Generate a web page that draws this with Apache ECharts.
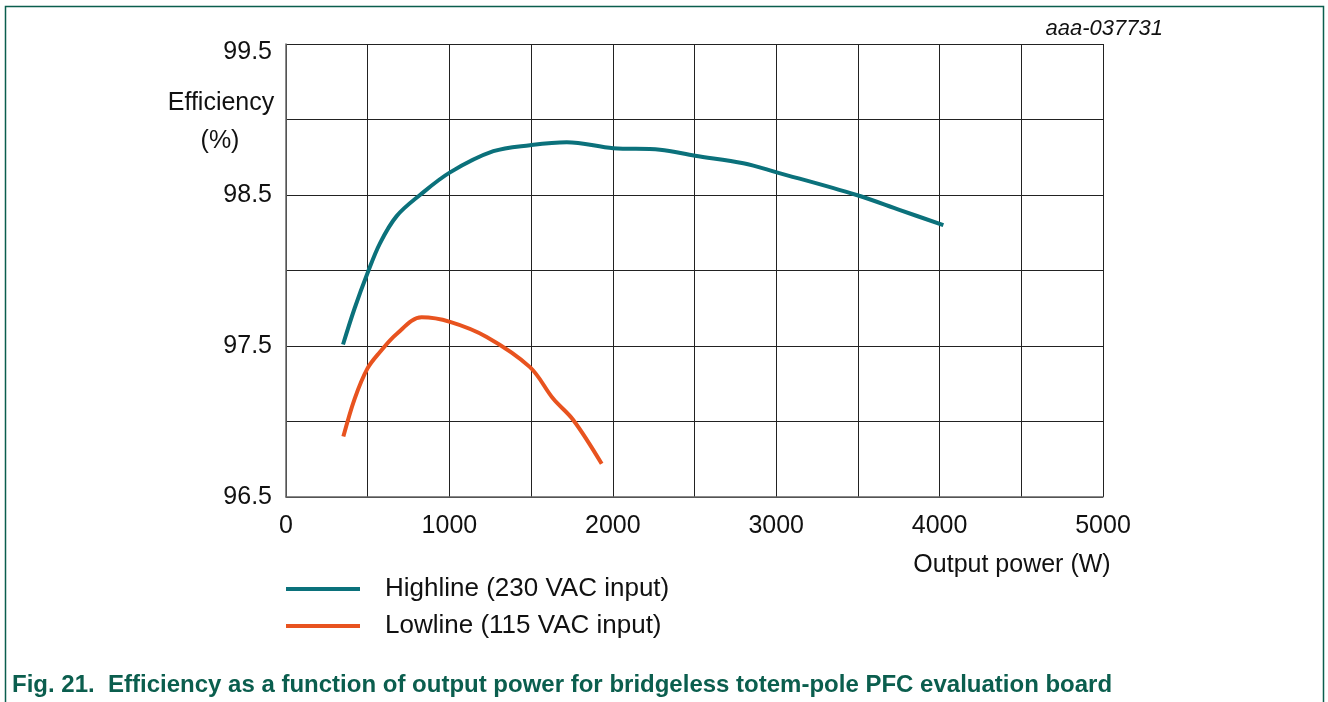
<!DOCTYPE html>
<html lang="en">
<head>
    <meta charset="UTF-8">
    <title>Efficiency vs Output Power</title>
    <script src="https://cdn.jsdelivr.net/npm/echarts/dist/echarts.min.js"></script>
    <style>
        html, body { margin: 0; padding: 0; background: #fff; }
        #chart { width: 1328px; height: 702px; }
    </style>
</head>
<body>
    <div id="chart"></div>

    <script>
        // highline (230 VAC) readings: output power W, efficiency %
        const highPower = [349, 420, 498, 575, 677, 820, 1004, 1269, 1493, 1718, 2003, 2289, 2503, 2799, 3003, 3492, 3758, 4023];
        const highEff = [97.51, 97.75, 97.98, 98.18, 98.36, 98.50, 98.65, 98.79, 98.83, 98.85, 98.81, 98.80, 98.76, 98.71, 98.65, 98.50, 98.40, 98.30];

        // lowline (115 VAC) readings
        const lowPower = [351, 420, 498, 575, 677, 830, 1004, 1228, 1493, 1636, 1758, 1932];
        const lowEff = [96.90, 97.15, 97.35, 97.46, 97.58, 97.69, 97.66, 97.56, 97.36, 97.15, 97.01, 96.72];

        const seriesNames = ['Highline (230 VAC input)', 'Lowline (115 VAC input)'];
        const xTickLabels = ['0', '1000', '2000', '3000', '4000', '5000'];
        const yTickLabels = ['96.5', '97.5', '98.5', '99.5'];

        const font = 'Liberation Sans, Arial, sans-serif';
        const chart = echarts.init(document.getElementById('chart'));

        const pairs = (xs, ys) => xs.map((x, i) => [x, ys[i]]);

        chart.setOption({
            animation: false,
            grid: { left: 286, top: 44, width: 817, height: 453 },
            xAxis: {
                type: 'value', min: 0, max: 5000, interval: 500,
                axisLine: { show: true, lineStyle: { color: '#666', width: 1.5 } },
                axisTick: { show: false },
                splitLine: { show: true, lineStyle: { color: '#222', width: 1 } },
                axisLabel: {
                    margin: 17, fontSize: 25, color: '#111', fontFamily: font,
                    formatter: v => xTickLabels.includes(String(v)) ? String(v) : ''
                }
            },
            yAxis: {
                type: 'value', min: 96.5, max: 99.5, interval: 0.5,
                axisLine: { show: true, lineStyle: { color: '#666', width: 1.5 } },
                axisTick: { show: false },
                splitLine: { show: true, lineStyle: { color: '#222', width: 1 } },
                axisLabel: {
                    margin: 14, fontSize: 25, color: '#111', fontFamily: font,
                    formatter: v => {
                        const s = v.toFixed(1);
                        if (!yTickLabels.includes(s)) return '';
                        return s === '99.5' ? '{top|' + s + '}' : s;
                    },
                    rich: { top: { fontSize: 25, fontFamily: font, color: '#111', padding: [16, 0, 0, 0] } }
                }
            },
            legend: {
                orient: 'vertical', left: 281, top: 570,
                icon: 'rect', itemWidth: 74, itemHeight: 4, itemGap: 9,
                data: seriesNames,
                textStyle: { fontSize: 26, color: '#111', fontFamily: font, lineHeight: 28, padding: [0, 0, 0, 20] }
            },
            graphic: [
                { type: 'rect', shape: { x: 5.5, y: 6.5, width: 1318, height: 720 },
                  style: { fill: 'none', stroke: '#0b5e4e', lineWidth: 1.5 } },
                { type: 'text', x: 1163, y: 29,
                  style: { text: 'aaa-037731', font: 'italic 22px ' + font, fill: '#111', textAlign: 'right', textVerticalAlign: 'middle' } },
                { type: 'text', x: 221, y: 103,
                  style: { text: 'Efficiency', font: '25px ' + font, fill: '#111', textAlign: 'center', textVerticalAlign: 'middle' } },
                { type: 'text', x: 220, y: 141,
                  style: { text: '(%)', font: '25px ' + font, fill: '#111', textAlign: 'center', textVerticalAlign: 'middle' } },
                { type: 'text', x: 1012, y: 565,
                  style: { text: 'Output power (W)', font: '25px ' + font, fill: '#111', textAlign: 'center', textVerticalAlign: 'middle' } },
                { type: 'text', x: 12, y: 685,
                  style: { text: 'Fig. 21.  Efficiency as a function of output power for bridgeless totem-pole PFC evaluation board',
                           font: 'bold 24px ' + font, fill: '#0b5e4e', textVerticalAlign: 'middle' } }
            ],
            series: [
                {
                    name: seriesNames[0], type: 'line', data: pairs(highPower, highEff),
                    smooth: 0.35, symbol: 'none',
                    lineStyle: { color: '#0b717b', width: 4 }, itemStyle: { color: '#0b717b' }
                },
                {
                    name: seriesNames[1], type: 'line', data: pairs(lowPower, lowEff),
                    smooth: 0.35, symbol: 'none',
                    lineStyle: { color: '#e8531f', width: 4 }, itemStyle: { color: '#e8531f' }
                }
            ]
        });
    </script>
</body>
</html>
